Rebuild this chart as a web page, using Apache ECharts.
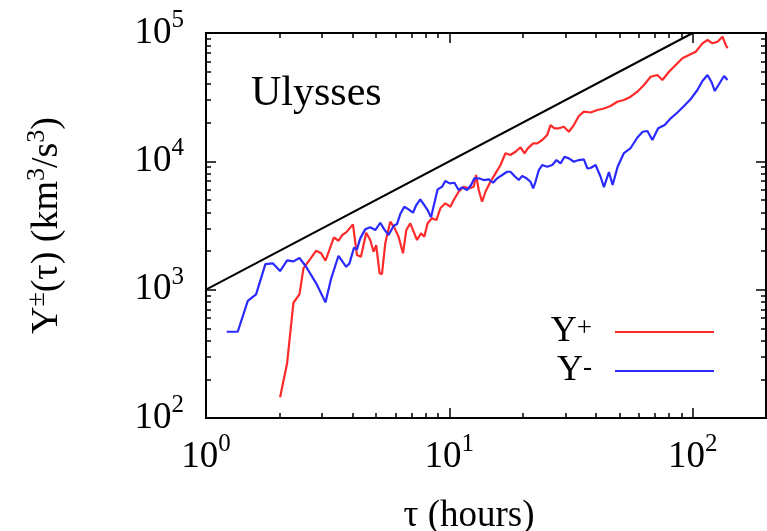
<!DOCTYPE html>
<html>
<head>
<meta charset="utf-8">
<title></title>
<script type="text/javascript" src="https://cdn.jsdelivr.net/npm/echarts@6/dist/echarts.min.js"></script>
<style>
html, body { margin: 0; padding: 0; background: #fff; }
</style>
</head>
<body>

<div id="main" style="width: 767px;height:531px;"></div>

<script type="text/javascript">

// Y+ (red) : tau in hours, Y in km^3/s^3
let TAU_PLUS = [
	2.016, 2.154, 2.287, 2.421, 2.514, 2.661, 2.836, 2.973, 3.097, 3.354,
	3.503, 3.628, 3.768, 4.016, 4.171, 4.331, 4.553, 4.731, 4.880, 5.006,
	5.166, 5.284, 5.453, 5.717, 5.938, 6.185, 6.449, 6.653, 6.911, 7.178,
	7.364, 7.646, 7.888, 8.139, 8.486, 8.844, 9.182, 9.627, 10.10, 10.42,
	10.92, 11.45, 12.01, 12.59, 12.88, 13.20, 13.63, 14.07, 14.75, 15.47,
	16.22, 17.00, 17.82, 18.69, 19.60, 20.36, 21.00, 22.11, 22.95, 24.07,
	25.23, 26.04, 27.04, 28.18, 29.54, 30.97, 32.47, 34.05, 35.71, 38.04,
	40.54, 43.15, 45.98, 48.98, 52.15, 55.57, 59.23, 63.04, 67.17, 71.57,
	75.05, 79.90, 85.11, 90.69, 96.56, 102.9, 109.6, 115.0, 120.5, 126.4,
	132.5, 136.7, 138.9
];
let Y_PLUS = [
	145, 267, 791, 919, 1466, 1701, 2011, 1919, 1680, 2556,
	2405, 2665, 2796, 3228, 1861, 1805, 2777, 2436, 1975, 2227,
	1340, 1323, 2296, 3382, 3060, 2584, 1919, 2914, 3287, 2747,
	2436, 2747, 2584, 3287, 3595, 3487, 4302, 4706, 4428, 4993,
	5796, 6339, 6161, 6339, 7820, 5974, 4843, 5796, 6934, 8065,
	9359, 11550, 11200, 11880, 12850, 11550, 12630, 13810, 13810, 14660,
	16030, 19180, 18080, 18080, 18610, 17010, 19180, 22550, 24360, 24010,
	25110, 25790, 26980, 29140, 30050, 31870, 34870, 39330, 45640, 47070,
	43020, 49930, 56320, 63500, 67370, 71480, 83110, 88190, 83110, 85540,
	93580, 80630, 75960
];

// Y- (blue)
let TAU_MINUS = [
	1.217, 1.350, 1.485, 1.606, 1.754, 1.881, 2.016, 2.154, 2.287, 2.421,
	2.579, 2.836, 3.097, 3.269, 3.503, 3.768, 3.888, 4.054, 4.171, 4.302,
	4.511, 4.731, 4.961, 5.200, 5.401, 5.626, 5.899, 6.092, 6.285, 6.527,
	6.799, 7.088, 7.313, 7.596, 7.888, 8.139, 8.406, 8.674, 8.950, 9.333,
	9.627, 10.03, 10.49, 10.92, 11.28, 11.82, 12.28, 12.67, 13.20, 13.84,
	14.51, 15.13, 15.72, 16.48, 17.28, 17.82, 18.51, 19.28, 19.91, 20.75,
	21.54, 22.11, 22.59, 23.31, 24.07, 25.23, 26.47, 27.56, 28.63, 29.73,
	30.97, 32.47, 34.05, 35.71, 36.88, 38.04, 39.89, 41.82, 43.15, 45.25,
	46.86, 49.13, 52.15, 55.57, 59.23, 62.27, 65.11, 68.27, 72.11, 76.70,
	81.21, 86.50, 92.09, 98.13, 104.5, 109.6, 115.0, 119.7, 123.2, 128.3,
	134.5, 138.9
];
let Y_MINUS = [
	470, 470, 819, 919, 1583, 1603, 1396, 1692, 1662, 1764,
	1508, 1120, 796, 1225, 1837, 1508, 1603, 2121, 2061, 2511,
	2951, 3060, 2914, 3322, 2951, 2665, 3131, 3246, 3884, 4428,
	4226, 3976, 4564, 5055, 4564, 4173, 3660, 4706, 6050, 6339,
	7022, 6737, 6810, 5974, 6270, 5974, 6536, 7371, 7371, 7148,
	7240, 6810, 7371, 7820, 8297, 8297, 7681, 7148, 7681, 7371,
	6934, 6161, 6934, 8554, 9359, 9077, 9359, 10230, 9647, 10860,
	10550, 9929, 10230, 10360, 8820, 8868, 9359, 7586, 6305, 8253,
	6536, 9077, 11610, 12700, 15330, 17010, 17230, 14660, 18080, 19180,
	21640, 24010, 26980, 30590, 35950, 42260, 47070, 41140, 35310, 40040,
	46220, 43020
];

// reference slope line Y ~ tau
let REF_TAU = [1, 100];
let REF_Y = [1000, 100000];

let X_RANGE = [1, 200];
let Y_RANGE = [100, 100000];
let X_MAJOR = [10, 100];
let X_MINOR = [2, 3, 4, 5, 6, 7, 8, 9, 20, 30, 40, 50, 60, 70, 80, 90];
let Y_MAJOR = [1000, 10000];
let Y_MINOR = [200, 300, 400, 500, 600, 700, 800, 900,
	2000, 3000, 4000, 5000, 6000, 7000, 8000, 9000,
	20000, 30000, 40000, 50000, 60000, 70000, 80000, 90000];

const FONT = 'Liberation Serif';
const RED = '#ff2a2a';
const BLUE = '#2a2aff';

function zip(a, b){
	return a.map((v, i) => [v, b[i]]);
}

function powLabel(v){
	let e = Math.log10(v);
	if(Math.abs(e - Math.round(e)) > 1e-6) return '';
	return '{b|10}{s|' + Math.round(e) + '}';
}

// overlay axis in log10 space that only draws inward tick marks
function tickAxis(pos, range, values, len){
	return {
		type: 'value',
		position: pos,
		min: Math.log10(range[0]),
		max: Math.log10(range[1]),
		axisLine: { show: false, onZero: false },
		axisLabel: { show: false },
		splitLine: { show: false },
		axisTick: {
			show: true,
			inside: true,
			length: len,
			customValues: values.map(Math.log10),
			lineStyle: { color: '#000', width: 1.5 }
		}
	};
}

let labelRich = {
	b: { fontFamily: FONT, fontSize: 37, lineHeight: 50, color: '#000' },
	s: { fontFamily: FONT, fontSize: 25, lineHeight: 24, verticalAlign: 'top', color: '#000' }
};

var myChart = echarts.init(document.getElementById('main'));

var option = {
	animation: false,
	title: {
		text: 'Ulysses',
		left: 246,
		top: 68,
		textStyle: { fontFamily: FONT, fontSize: 42, fontWeight: 'normal', color: '#000' }
	},
	legend: {
		orient: 'vertical',
		right: 48,
		top: 309,
		align: 'right',
		itemWidth: 99,
		itemHeight: 2,
		itemGap: 3,
		icon: 'rect',
		data: ['Y+', 'Y-'],
		formatter: (name) => '{b|Y}{s|' + name.slice(1) + '}',
		textStyle: {
			padding: [0, 18, 0, 0],
			rich: {
				b: { fontFamily: FONT, fontSize: 36, lineHeight: 34, color: '#000' },
				s: { fontFamily: FONT, fontSize: 27, lineHeight: 22, verticalAlign: 'top', color: '#000' }
			}
		}
	},
	grid: {
		left: 206,
		right: 1,
		top: 33,
		bottom: 113,
		show: true,
		borderColor: '#000',
		borderWidth: 2,
		outerBoundsMode: 'none'
	},
	xAxis: [
		{
			type: 'log',
			position: 'bottom',
			min: X_RANGE[0],
			max: X_RANGE[1],
			name: '{t|τ (hours)}',
			nameLocation: 'middle',
			nameGap: 80,
			nameTextStyle: {
				padding: [0, 34, 0, 0],
				rich: { t: { fontFamily: FONT, fontSize: 37, color: '#000' } }
			},
			axisLine: { show: false, onZero: false },
			axisTick: { show: false },
			splitLine: { show: false },
			axisLabel: {
				margin: 14,
				formatter: powLabel,
				rich: labelRich,
				showMaxLabel: false
			}
		},
		tickAxis('bottom', X_RANGE, X_MAJOR, 10),
		tickAxis('bottom', X_RANGE, X_MINOR, 5),
		tickAxis('top', X_RANGE, X_MAJOR, 10),
		tickAxis('top', X_RANGE, X_MINOR, 5)
	],
	yAxis: [
		{
			type: 'log',
			position: 'left',
			min: Y_RANGE[0],
			max: Y_RANGE[1],
			name: '{b|Y}{s|±}{b|(τ) (km}{s|3}{b|/s}{s|3}{b|)}',
			nameLocation: 'middle',
			nameGap: 136,
			nameTextStyle: {
				rich: {
					b: { fontFamily: FONT, fontSize: 38, lineHeight: 46, color: '#000' },
					s: { fontFamily: FONT, fontSize: 26, lineHeight: 24, verticalAlign: 'top', color: '#000' }
				}
			},
			axisLine: { show: false, onZero: false },
			axisTick: { show: false },
			splitLine: { show: false },
			axisLabel: {
				margin: 22,
				formatter: powLabel,
				rich: labelRich
			}
		},
		tickAxis('left', Y_RANGE, Y_MAJOR, 10),
		tickAxis('left', Y_RANGE, Y_MINOR, 5),
		tickAxis('right', Y_RANGE, Y_MAJOR, 10),
		tickAxis('right', Y_RANGE, Y_MINOR, 5)
	],
	series: [
		{
			name: 'ref',
			type: 'line',
			xAxisIndex: 0,
			yAxisIndex: 0,
			data: zip(REF_TAU, REF_Y),
			showSymbol: false,
			lineStyle: { color: '#000', width: 2 },
			z: 3
		},
		{
			name: 'Y+',
			type: 'line',
			xAxisIndex: 0,
			yAxisIndex: 0,
			data: zip(TAU_PLUS, Y_PLUS),
			showSymbol: false,
			itemStyle: { color: RED },
			lineStyle: { color: RED, width: 2.2 },
			z: 4
		},
		{
			name: 'Y-',
			type: 'line',
			xAxisIndex: 0,
			yAxisIndex: 0,
			data: zip(TAU_MINUS, Y_MINUS),
			showSymbol: false,
			itemStyle: { color: BLUE },
			lineStyle: { color: BLUE, width: 2.2 },
			z: 5
		}
	]
};

myChart.setOption(option);

</script>

</body>
</html>
